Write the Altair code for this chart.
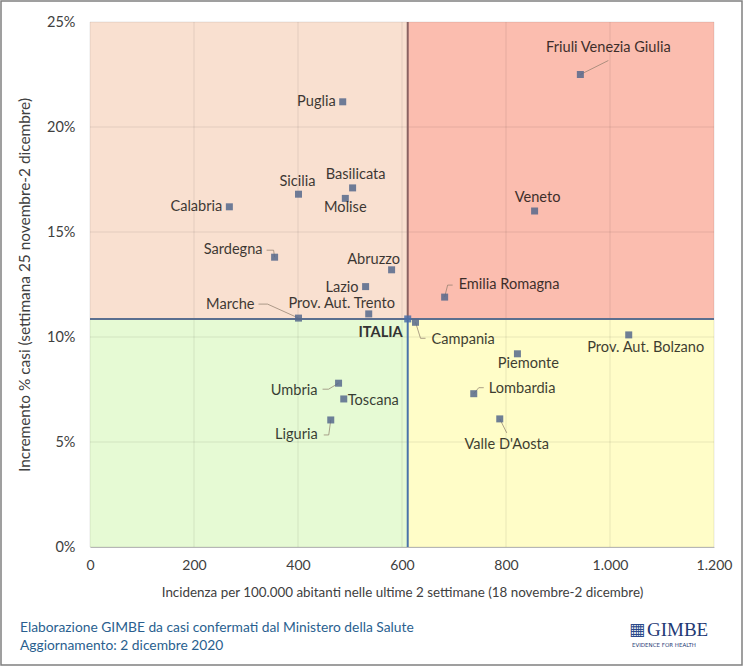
import altair as alt
import pandas as pd

# ---------------- data ----------------
regions = ["Friuli Venezia Giulia", "Puglia", "Basilicata", "Molise", "Sicilia",
           "Calabria", "Veneto", "Sardegna", "Abruzzo", "Lazio", "Emilia Romagna",
           "Prov. Aut. Trento", "Marche", "ITALIA", "Campania", "Prov. Aut. Bolzano",
           "Piemonte", "Umbria", "Lombardia", "Toscana", "Valle D'Aosta", "Liguria"]
incidenza = [943, 486, 505, 491, 401, 268, 855, 355, 580, 530, 682,
             536, 401, 611, 626, 1036, 822, 478, 738, 488, 788, 463]
incremento = [22.5, 21.2, 17.1, 16.6, 16.8, 16.2, 16.0, 13.8, 13.2, 12.4, 11.9,
              11.1, 10.9, 10.86, 10.7, 10.1, 9.2, 7.8, 7.3, 7.05, 6.1, 6.05]

x_ticks = [0, 200, 400, 600, 800, 1000, 1200]
y_ticks = [0, 5, 10, 15, 20, 25]

x_title = "Incidenza per 100.000  abitanti nelle ultime 2 settimane (18 novembre-2 dicembre)"
y_title = "Incremento % casi (settimana 25 novembre-2 dicembre)"
footer1 = "Elaborazione GIMBE da casi confermati dal Ministero della Salute"
footer2 = "Aggiornamento: 2 dicembre 2020"

# ---------------- styling (label placement in pixels) ----------------
label_align = ["center", "right", "center", "center", "center", "right", "center",
               "right", "center", "right", "left", "center", "right", "right",
               "left", "center", "center", "right", "left", "left", "center", "right"]
label_dx = [28, -7, 3, 0, -1, -7, 3, -12, -18, -7, 14, -27, -44, -5, 16, 17, 11, -21, 15, 4, 7, -13]
label_dy = [-27, 0, -13, 10, -12, 0, -13, -7, -10, 1, -12, -10, -13, 14, 18, 13, 10, 8, -5, 2, 26, 15]

leaders = {
    "Friuli Venezia Giulia": [(0, 0), (28, -14)],
    "Sardegna": [(0, 0), (-1, -7), (-8, -7)],
    "Marche": [(0, 0), (-31, -14), (-40, -14)],
    "Emilia Romagna": [(0, 0), (3, -12), (8, -12)],
    "Campania": [(0, 0), (5, 16), (10, 16)],
    "Umbria": [(0, 0), (-10, 6), (-16, 6)],
    "Liguria": [(0, 0), (-2, 15), (-7, 15)],
    "Lombardia": [(0, 0), (5, -6), (10, -6)],
    "Valle D'Aosta": [(0, 0), (7, 14)],
}

W, H = 624, 525
XMAX, YMAX = 1200, 25
PX_X = W / XMAX
PX_Y = H / YMAX
FONT = "Lato"

df = pd.DataFrame({"regione": regions, "x": incidenza, "y": incremento,
                   "align": label_align, "dx": label_dx, "dy": label_dy})
df["lx"] = df["x"] + df["dx"] / PX_X
df["ly"] = df["y"] - df["dy"] / PX_Y
df["kind"] = ["italia" if r == "ITALIA" else "regione" for r in regions]

it = df[df.regione == "ITALIA"].iloc[0]
ix, iy = float(it.x), float(it.y)

# leader polylines
rows = []
for name, pts in leaders.items():
    r = df[df.regione == name].iloc[0]
    for i, (px, py) in enumerate(pts):
        rows.append({"regione": name, "o": i,
                     "x": r.x + px / PX_X, "y": r.y - py / PX_Y})
leader_df = pd.DataFrame(rows)

quad_df = pd.DataFrame({
    "x0": [0, ix, 0, ix], "x1": [ix, XMAX, ix, XMAX],
    "y0": [iy, iy, 0, 0], "y1": [YMAX, YMAX, iy, iy],
    "c": ["#F9E0D0", "#FBBDAF", "#E6FAD4", "#FFFDC8"],
})

xs = alt.Scale(domain=[0, XMAX], nice=False, zero=False)
ys = alt.Scale(domain=[0, YMAX], nice=False, zero=False)

x_axis = alt.Axis(values=x_ticks, grid=False, ticks=False, domain=True,
                  domainColor="#bfbfbf", domainWidth=1, labelFlush=False,
                  labelExpr="replace(format(datum.value, ','), ',', '.')",
                  labelFont=FONT, labelFontSize=14, labelColor="#404040",
                  labelPadding=11, title=x_title, titleFont=FONT,
                  titleFontSize=13.4, titleFontWeight="normal", titleColor="#404040",
                  titlePadding=13)
y_axis = alt.Axis(values=y_ticks, grid=False, ticks=False, domain=False,
                  labelFlush=False, labelExpr="datum.value + '%'",
                  labelFont=FONT, labelFontSize=14.5, labelColor="#404040",
                  labelPadding=15, title=y_title, titleFont=FONT,
                  titleFontSize=15.4, titleFontWeight="normal", titleColor="#404040",
                  titlePadding=14)

quads = alt.Chart(quad_df).mark_rect().encode(
    x=alt.X("x0:Q", scale=xs, axis=x_axis), x2="x1:Q",
    y=alt.Y("y0:Q", scale=ys, axis=y_axis), y2="y1:Q",
    color=alt.Color("c:N", scale=None),
)

vgrid = alt.Chart(pd.DataFrame({"v": x_ticks})).mark_rule(
    color="#000000", opacity=0.09, strokeWidth=1).encode(
    x=alt.X("v:Q", scale=xs), y=alt.value(0), y2=alt.value(H))
hgrid = alt.Chart(pd.DataFrame({"v": y_ticks})).mark_rule(
    color="#000000", opacity=0.09, strokeWidth=1).encode(
    y=alt.Y("v:Q", scale=ys), x=alt.value(0), x2=alt.value(W))

div_df = pd.DataFrame({
    "x0": [ix, ix, 0], "x1": [ix, ix, XMAX],
    "y0": [iy, 0, iy], "y1": [YMAX, iy, iy],
    "c": ["#8a6262", "#4a72aa", "#5b6f8f"],
})
dividers = alt.Chart(div_df).mark_rule(strokeWidth=2).encode(
    x=alt.X("x0:Q", scale=xs), x2="x1:Q",
    y=alt.Y("y0:Q", scale=ys), y2="y1:Q",
    color=alt.Color("c:N", scale=None),
)

leader_lines = alt.Chart(leader_df).mark_line(
    color="#8c7a6a", opacity=0.7, strokeWidth=1).encode(
    x=alt.X("x:Q", scale=xs), y=alt.Y("y:Q", scale=ys),
    detail="regione:N", order="o:Q")

points = alt.Chart(df).mark_point(shape="square", filled=True, size=49,
                                  opacity=0.85).encode(
    x=alt.X("x:Q", scale=xs), y=alt.Y("y:Q", scale=ys),
    color=alt.Color("kind:N", scale=alt.Scale(domain=["regione", "italia"],
                                              range=["#56698c", "#4a6fa8"]),
                    legend=None),
)

label_layers = []
for a in ["left", "center", "right"]:
    label_layers.append(
        alt.Chart(df).transform_filter(
            (alt.datum.align == a) & (alt.datum.regione != "ITALIA")
        ).mark_text(align=a, baseline="middle", font=FONT, fontSize=14.6,
                    color="#000000", opacity=0.76).encode(
            x=alt.X("lx:Q", scale=xs), y=alt.Y("ly:Q", scale=ys), text="regione:N")
    )
italia_label = alt.Chart(df).transform_filter(alt.datum.regione == "ITALIA").mark_text(
    align="right", baseline="middle", font=FONT, fontSize=14.6, fontWeight="bold",
    color="#333333").encode(
    x=alt.X("lx:Q", scale=xs), y=alt.Y("ly:Q", scale=ys), text="regione:N")

one = pd.DataFrame({"a": [0]})
frame = alt.Chart(one).mark_rect(fill=None, stroke="#808080", strokeWidth=1.5).encode(
    x=alt.value(-89), x2=alt.value(652), y=alt.value(-21), y2=alt.value(643))

foot = alt.Chart(pd.DataFrame({"t": [footer1, footer2], "yy": [606, 624]})).mark_text(
    align="left", baseline="middle", font=FONT, fontSize=13.8, color="#2a5f8f").encode(
    x=alt.value(-70), y=alt.Y("yy:Q", scale=None), text="t:N")

logo_icon = alt.Chart(one).mark_text(
    text="▦", font="DejaVu Sans", fontSize=17, color="#2b4a8a",
    align="left", baseline="alphabetic").encode(x=alt.value(539), y=alt.value(613))
logo_text = alt.Chart(one).mark_text(
    text="GIMBE", font="Liberation Serif", fontSize=19, color="#1f3a75",
    align="left", baseline="alphabetic").encode(x=alt.value(557), y=alt.value(614))
logo_sub = alt.Chart(one).mark_text(
    text="EVIDENCE FOR HEALTH", font="DejaVu Sans", fontSize=5.5, color="#1f3a75",
    align="left", baseline="top").encode(x=alt.value(542), y=alt.value(621))

chart = alt.layer(
    quads, vgrid, hgrid, dividers, leader_lines, points,
    *label_layers, italia_label, frame, foot, logo_icon, logo_text, logo_sub
).properties(
    width=W, height=H,
    autosize=alt.AutoSizeParams(type="none"),
    padding={"left": 90, "top": 22, "right": 30, "bottom": 120},
    background="white",
).configure_view(stroke=None)

chart.save("out.html", embed_options={"renderer": "svg", "actions": False})
